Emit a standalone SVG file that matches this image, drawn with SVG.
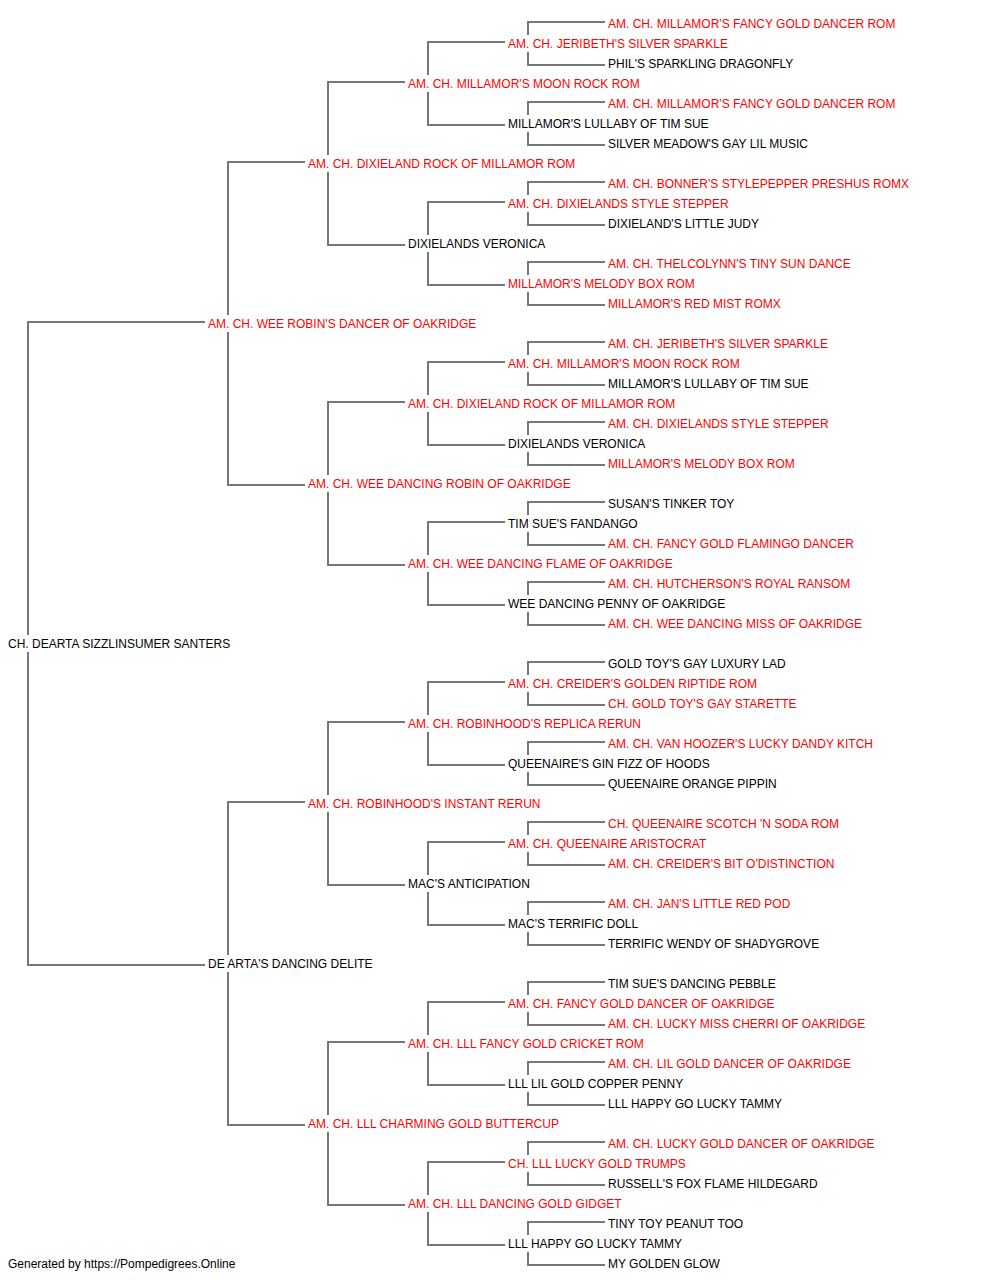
<svg xmlns="http://www.w3.org/2000/svg" width="1000" height="1280" viewBox="0 0 1000 1280">
<style>
text{font-family:"Liberation Sans",Arial,sans-serif;font-size:12px;fill:#000}
.r{fill:#ff0000}
#links path{fill:none;stroke:#777;stroke-width:2}
</style>
<rect width="1000" height="1280" fill="#fff"/>
<g id="links">
<path d="M205,322 H28 V635 M28,652 V965 H205"/>
<path d="M305,162 H228 V315 M228,332 V485 H305"/>
<path d="M305,802 H228 V955 M228,972 V1125 H305"/>
<path d="M405,82 H328 V155 M328,172 V245 H405"/>
<path d="M405,402 H328 V475 M328,492 V565 H405"/>
<path d="M405,722 H328 V795 M328,812 V885 H405"/>
<path d="M405,1042 H328 V1115 M328,1132 V1205 H405"/>
<path d="M505,42 H428 V75 M428,92 V125 H505"/>
<path d="M505,202 H428 V235 M428,252 V285 H505"/>
<path d="M505,362 H428 V395 M428,412 V445 H505"/>
<path d="M505,522 H428 V555 M428,572 V605 H505"/>
<path d="M505,682 H428 V715 M428,732 V765 H505"/>
<path d="M505,842 H428 V875 M428,892 V925 H505"/>
<path d="M505,1002 H428 V1035 M428,1052 V1085 H505"/>
<path d="M505,1162 H428 V1195 M428,1212 V1245 H505"/>
<path d="M605,22 H528 V35 M528,52 V65 H605"/>
<path d="M605,102 H528 V115 M528,132 V145 H605"/>
<path d="M605,182 H528 V195 M528,212 V225 H605"/>
<path d="M605,262 H528 V275 M528,292 V305 H605"/>
<path d="M605,342 H528 V355 M528,372 V385 H605"/>
<path d="M605,422 H528 V435 M528,452 V465 H605"/>
<path d="M605,502 H528 V515 M528,532 V545 H605"/>
<path d="M605,582 H528 V595 M528,612 V625 H605"/>
<path d="M605,662 H528 V675 M528,692 V705 H605"/>
<path d="M605,742 H528 V755 M528,772 V785 H605"/>
<path d="M605,822 H528 V835 M528,852 V865 H605"/>
<path d="M605,902 H528 V915 M528,932 V945 H605"/>
<path d="M605,982 H528 V995 M528,1012 V1025 H605"/>
<path d="M605,1062 H528 V1075 M528,1092 V1105 H605"/>
<path d="M605,1142 H528 V1155 M528,1172 V1185 H605"/>
<path d="M605,1222 H528 V1235 M528,1252 V1265 H605"/>
</g>
<g id="r0"><text class="r" x="608" y="28">AM. CH. MILLAMOR'S FANCY GOLD DANCER ROM</text></g>
<g id="r1"><text class="r" x="508" y="48">AM. CH. JERIBETH'S SILVER SPARKLE</text></g>
<g id="r2"><text x="608" y="68">PHIL'S SPARKLING DRAGONFLY</text></g>
<g id="r3"><text class="r" x="408" y="88">AM. CH. MILLAMOR'S MOON ROCK ROM</text></g>
<g id="r4"><text class="r" x="608" y="108">AM. CH. MILLAMOR'S FANCY GOLD DANCER ROM</text></g>
<g id="r5"><text x="508" y="128">MILLAMOR'S LULLABY OF TIM SUE</text></g>
<g id="r6"><text x="608" y="148">SILVER MEADOW'S GAY LIL MUSIC</text></g>
<g id="r7"><text class="r" x="308" y="168">AM. CH. DIXIELAND ROCK OF MILLAMOR ROM</text></g>
<g id="r8"><text class="r" x="608" y="188">AM. CH. BONNER'S STYLEPEPPER PRESHUS ROMX</text></g>
<g id="r9"><text class="r" x="508" y="208">AM. CH. DIXIELANDS STYLE STEPPER</text></g>
<g id="r10"><text x="608" y="228">DIXIELAND'S LITTLE JUDY</text></g>
<g id="r11"><text x="408" y="248">DIXIELANDS VERONICA</text></g>
<g id="r12"><text class="r" x="608" y="268">AM. CH. THELCOLYNN'S TINY SUN DANCE</text></g>
<g id="r13"><text class="r" x="508" y="288">MILLAMOR'S MELODY BOX ROM</text></g>
<g id="r14"><text class="r" x="608" y="308">MILLAMOR'S RED MIST ROMX</text></g>
<g id="r15"><text class="r" x="208" y="328">AM. CH. WEE ROBIN'S DANCER OF OAKRIDGE</text></g>
<g id="r16"><text class="r" x="608" y="348">AM. CH. JERIBETH'S SILVER SPARKLE</text></g>
<g id="r17"><text class="r" x="508" y="368">AM. CH. MILLAMOR'S MOON ROCK ROM</text></g>
<g id="r18"><text x="608" y="388">MILLAMOR'S LULLABY OF TIM SUE</text></g>
<g id="r19"><text class="r" x="408" y="408">AM. CH. DIXIELAND ROCK OF MILLAMOR ROM</text></g>
<g id="r20"><text class="r" x="608" y="428">AM. CH. DIXIELANDS STYLE STEPPER</text></g>
<g id="r21"><text x="508" y="448">DIXIELANDS VERONICA</text></g>
<g id="r22"><text class="r" x="608" y="468">MILLAMOR'S MELODY BOX ROM</text></g>
<g id="r23"><text class="r" x="308" y="488">AM. CH. WEE DANCING ROBIN OF OAKRIDGE</text></g>
<g id="r24"><text x="608" y="508">SUSAN'S TINKER TOY</text></g>
<g id="r25"><text x="508" y="528">TIM SUE'S FANDANGO</text></g>
<g id="r26"><text class="r" x="608" y="548">AM. CH. FANCY GOLD FLAMINGO DANCER</text></g>
<g id="r27"><text class="r" x="408" y="568">AM. CH. WEE DANCING FLAME OF OAKRIDGE</text></g>
<g id="r28"><text class="r" x="608" y="588">AM. CH. HUTCHERSON'S ROYAL RANSOM</text></g>
<g id="r29"><text x="508" y="608">WEE DANCING PENNY OF OAKRIDGE</text></g>
<g id="r30"><text class="r" x="608" y="628">AM. CH. WEE DANCING MISS OF OAKRIDGE</text></g>
<g id="r31"><text x="8" y="648">CH. DEARTA SIZZLINSUMER SANTERS</text></g>
<g id="r32"><text x="608" y="668">GOLD TOY'S GAY LUXURY LAD</text></g>
<g id="r33"><text class="r" x="508" y="688">AM. CH. CREIDER'S GOLDEN RIPTIDE ROM</text></g>
<g id="r34"><text class="r" x="608" y="708">CH. GOLD TOY'S GAY STARETTE</text></g>
<g id="r35"><text class="r" x="408" y="728">AM. CH. ROBINHOOD'S REPLICA RERUN</text></g>
<g id="r36"><text class="r" x="608" y="748">AM. CH. VAN HOOZER'S LUCKY DANDY KITCH</text></g>
<g id="r37"><text x="508" y="768">QUEENAIRE'S GIN FIZZ OF HOODS</text></g>
<g id="r38"><text x="608" y="788">QUEENAIRE ORANGE PIPPIN</text></g>
<g id="r39"><text class="r" x="308" y="808">AM. CH. ROBINHOOD'S INSTANT RERUN</text></g>
<g id="r40"><text class="r" x="608" y="828">CH. QUEENAIRE SCOTCH 'N SODA ROM</text></g>
<g id="r41"><text class="r" x="508" y="848">AM. CH. QUEENAIRE ARISTOCRAT</text></g>
<g id="r42"><text class="r" x="608" y="868">AM. CH. CREIDER'S BIT O'DISTINCTION</text></g>
<g id="r43"><text x="408" y="888">MAC'S ANTICIPATION</text></g>
<g id="r44"><text class="r" x="608" y="908">AM. CH. JAN'S LITTLE RED POD</text></g>
<g id="r45"><text x="508" y="928">MAC'S TERRIFIC DOLL</text></g>
<g id="r46"><text x="608" y="948">TERRIFIC WENDY OF SHADYGROVE</text></g>
<g id="r47"><text x="208" y="968">DE ARTA'S DANCING DELITE</text></g>
<g id="r48"><text x="608" y="988">TIM SUE'S DANCING PEBBLE</text></g>
<g id="r49"><text class="r" x="508" y="1008">AM. CH. FANCY GOLD DANCER OF OAKRIDGE</text></g>
<g id="r50"><text class="r" x="608" y="1028">AM. CH. LUCKY MISS CHERRI OF OAKRIDGE</text></g>
<g id="r51"><text class="r" x="408" y="1048">AM. CH. LLL FANCY GOLD CRICKET ROM</text></g>
<g id="r52"><text class="r" x="608" y="1068">AM. CH. LIL GOLD DANCER OF OAKRIDGE</text></g>
<g id="r53"><text x="508" y="1088">LLL LIL GOLD COPPER PENNY</text></g>
<g id="r54"><text x="608" y="1108">LLL HAPPY GO LUCKY TAMMY</text></g>
<g id="r55"><text class="r" x="308" y="1128">AM. CH. LLL CHARMING GOLD BUTTERCUP</text></g>
<g id="r56"><text class="r" x="608" y="1148">AM. CH. LUCKY GOLD DANCER OF OAKRIDGE</text></g>
<g id="r57"><text class="r" x="508" y="1168">CH. LLL LUCKY GOLD TRUMPS</text></g>
<g id="r58"><text x="608" y="1188">RUSSELL'S FOX FLAME HILDEGARD</text></g>
<g id="r59"><text class="r" x="408" y="1208">AM. CH. LLL DANCING GOLD GIDGET</text></g>
<g id="r60"><text x="608" y="1228">TINY TOY PEANUT TOO</text></g>
<g id="r61"><text x="508" y="1248">LLL HAPPY GO LUCKY TAMMY</text></g>
<g id="r62"><text x="608" y="1268">MY GOLDEN GLOW</text></g>
<g id="footer"><text x="8" y="1268">Generated by https://Pompedigrees.Online</text></g>
</svg>
